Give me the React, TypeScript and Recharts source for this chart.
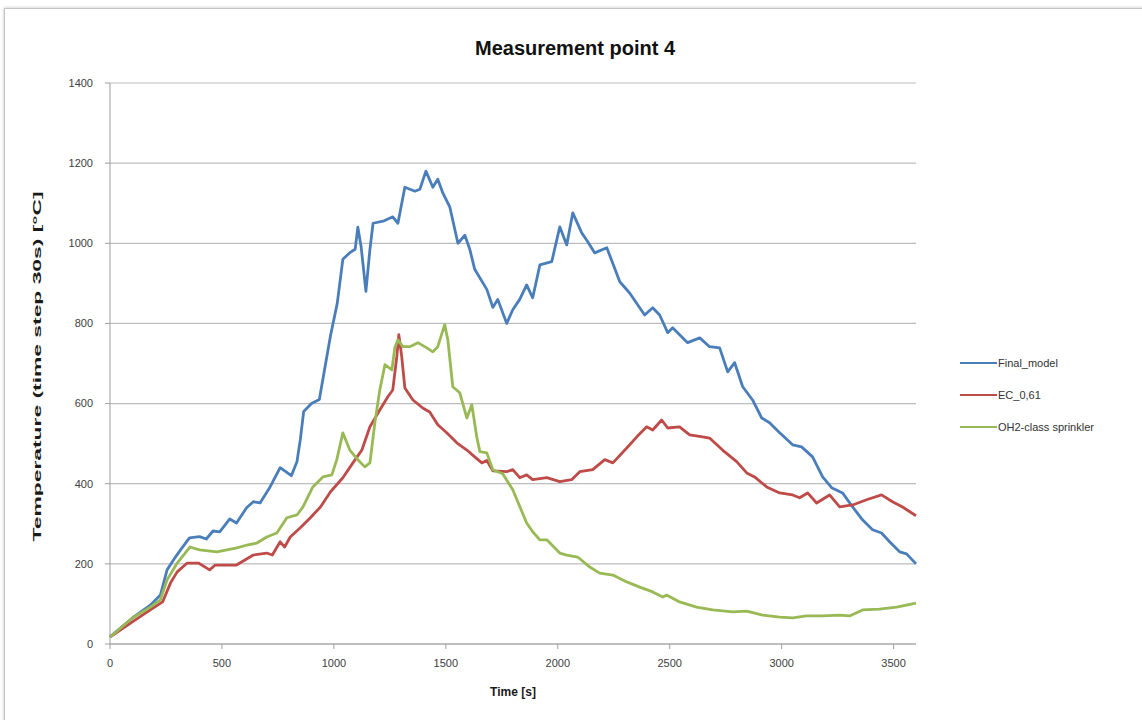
import { LineChart, Line, XAxis, YAxis, CartesianGrid } from "recharts";

// Final_model
const finalTimes = [0, 100, 180, 225, 255, 290, 315, 355, 400, 430, 460, 490, 535, 565, 610, 640, 670, 715, 760, 810, 835, 850, 865, 900, 935, 985, 1015, 1040, 1070, 1095, 1107, 1122, 1143, 1161, 1175, 1220, 1263, 1286, 1317, 1362, 1384, 1411, 1442, 1464, 1487, 1518, 1554, 1585, 1607, 1629, 1683, 1710, 1732, 1772, 1799, 1830, 1861, 1888, 1920, 1973, 2009, 2040, 2067, 2107, 2134, 2165, 2219, 2277, 2321, 2388, 2424, 2455, 2491, 2513, 2580, 2634, 2678, 2723, 2759, 2790, 2826, 2870, 2911, 2946, 2991, 3049, 3089, 3138, 3183, 3223, 3272, 3317, 3361, 3406, 3446, 3482, 3527, 3558, 3600];
const finalTemps = [18, 65, 97, 122, 185, 215, 235, 265, 268, 262, 282, 280, 312, 302, 340, 355, 352, 392, 440, 420, 455, 510, 580, 600, 610, 770, 850, 960, 976, 985, 1040, 990, 880, 985, 1050, 1055, 1066, 1050, 1140, 1130, 1135, 1180, 1140, 1160, 1125, 1090, 1000, 1020, 985, 935, 885, 840, 860, 800, 834, 860, 896, 864, 946, 954, 1041, 996, 1076, 1026, 1004, 976, 989, 904, 876, 821, 839, 821, 777, 789, 752, 764, 742, 739, 679, 702, 642, 609, 564, 552, 527, 497, 492, 467, 417, 390, 377, 342, 310, 285, 277, 255, 230, 225, 200];

// EC_0,61
const ecTimes = [0, 100, 180, 235, 270, 300, 345, 395, 445, 470, 520, 565, 640, 700, 725, 760, 780, 805, 850, 895, 940, 985, 1040, 1085, 1125, 1161, 1205, 1241, 1263, 1281, 1290, 1303, 1317, 1353, 1397, 1428, 1464, 1504, 1549, 1594, 1629, 1661, 1683, 1710, 1772, 1799, 1830, 1861, 1888, 1951, 2009, 2062, 2098, 2156, 2210, 2246, 2308, 2353, 2397, 2424, 2464, 2491, 2544, 2589, 2647, 2678, 2736, 2799, 2844, 2879, 2933, 2991, 3049, 3080, 3116, 3156, 3214, 3259, 3317, 3379, 3446, 3495, 3540, 3600];
const ecTemps = [17, 55, 85, 105, 152, 180, 202, 202, 185, 197, 197, 197, 222, 227, 222, 255, 242, 267, 290, 315, 342, 380, 415, 452, 484, 542, 584, 617, 634, 717, 772, 717, 639, 609, 589, 579, 547, 527, 502, 484, 467, 452, 458, 432, 430, 435, 415, 422, 410, 415, 405, 410, 430, 435, 460, 452, 489, 517, 542, 534, 559, 539, 542, 522, 517, 514, 484, 455, 427, 417, 392, 377, 372, 365, 377, 352, 372, 342, 347, 360, 372, 355, 342, 320];

// OH2-class sprinkler
const ohTimes = [0, 100, 180, 225, 255, 300, 357, 400, 478, 522, 567, 612, 656, 700, 745, 790, 835, 862, 906, 951, 991, 1013, 1040, 1071, 1107, 1138, 1161, 1183, 1205, 1228, 1259, 1272, 1286, 1308, 1339, 1375, 1415, 1442, 1464, 1495, 1509, 1531, 1562, 1594, 1616, 1638, 1652, 1683, 1710, 1754, 1799, 1861, 1888, 1920, 1951, 2009, 2040, 2089, 2143, 2187, 2246, 2308, 2366, 2424, 2469, 2486, 2544, 2620, 2692, 2781, 2844, 2915, 2991, 3049, 3111, 3183, 3259, 3303, 3361, 3437, 3513, 3600];
const ohTemps = [17, 65, 92, 110, 160, 202, 242, 235, 230, 235, 240, 247, 252, 267, 277, 315, 322, 342, 392, 417, 422, 460, 527, 484, 460, 442, 452, 552, 634, 697, 684, 739, 759, 742, 742, 752, 739, 729, 742, 797, 759, 642, 627, 564, 597, 517, 480, 477, 435, 425, 385, 302, 280, 260, 260, 227, 222, 217, 192, 177, 172, 155, 142, 130, 117, 122, 105, 92, 85, 80, 82, 72, 67, 65, 70, 70, 72, 70, 85, 87, 92, 102];

const xTicks = [0, 500, 1000, 1500, 2000, 2500, 3000, 3500];
const yTicks = [0, 200, 400, 600, 800, 1000, 1200, 1400];

const series = [
  { name: "Final_model", color: "#4a7ebb", times: finalTimes, temps: finalTemps },
  { name: "EC_0,61", color: "#be4b48", times: ecTimes, temps: ecTemps },
  { name: "OH2-class sprinkler", color: "#98b954", times: ohTimes, temps: ohTemps },
];

const font = "'Liberation Sans', Arial, sans-serif";

function YTitle(props: any) {
  const { viewBox } = props;
  const cx = 37;
  const cy = viewBox.y + viewBox.height / 2 + 3;
  return (
    <text
      x={cx}
      y={cy}
      transform={`rotate(-90 ${cx} ${cy})`}
      textAnchor="middle"
      dominantBaseline="central"
      textLength={350}
      lengthAdjust="spacingAndGlyphs"
      fontFamily={font}
      fontSize={11.5}
      fontWeight="bold"
      fill="#1a1a1a"
    >
      Temperature (time step  30s) [°C]
    </text>
  );
}

function LegendBox() {
  return (
    <div style={{ position: "absolute", left: 960, top: 347, fontFamily: font, fontSize: 11, color: "#333" }}>
      {series.map((s) => (
        <div key={s.name} style={{ display: "flex", alignItems: "center", height: 32 }}>
          <div style={{ width: 37, height: 2.5, background: s.color }} />
          <span style={{ marginLeft: 1 }}>{s.name}</span>
        </div>
      ))}
    </div>
  );
}

export default function App() {
  return (
    <div style={{ position: "relative", width: 1142, height: 720, background: "#fff", overflow: "hidden" }}>
      <style>{`body{margin:0}`}</style>
      <div
        style={{
          position: "absolute",
          left: 4,
          top: 8,
          width: 1160,
          height: 730,
          border: "1px solid #c4c4c4",
          boxShadow: "0 0 3px rgba(0,0,0,0.25)",
        }}
      />
      <div
        style={{
          position: "absolute",
          left: 0,
          top: 37,
          width: 1142,
          textAlign: "center",
          fontFamily: font,
          fontSize: 20,
          fontWeight: "bold",
          color: "#111",
          paddingLeft: 4,
        }}
      >
        Measurement point 4
      </div>
      <div style={{ position: "absolute", left: 0, top: 0 }}>
        <LineChart width={1142} height={720} margin={{ top: 83, right: 226, bottom: 46, left: 50 }}>
          <CartesianGrid vertical={false} stroke="#bdbdbd" strokeWidth={1.2} />
          <XAxis
            dataKey="t"
            type="number"
            domain={[0, 3600]}
            ticks={xTicks}
            allowDuplicatedCategory={false}
            height={30}
            stroke="#9e9e9e"
            tickSize={5}
            tick={{ fill: "#404040", fontSize: 11, fontFamily: font }}
            tickMargin={10}
            label={{
              value: "Time [s]",
              position: "insideBottom",
              offset: -22,
              fill: "#1a1a1a",
              fontSize: 12,
              fontWeight: "bold",
              fontFamily: font,
            }}
          />
          <YAxis
            type="number"
            domain={[0, 1400]}
            ticks={yTicks}
            width={60}
            stroke="#9e9e9e"
            tickSize={5}
            tick={{ fill: "#404040", fontSize: 11, fontFamily: font }}
            tickMargin={12}
            label={<YTitle />}
          />
          {series.map((s) => (
            <Line
              key={s.name}
              name={s.name}
              data={s.times.map((t, i) => ({ t, v: s.temps[i] }))}
              dataKey="v"
              type="linear"
              stroke={s.color}
              strokeWidth={2.8}
              strokeLinejoin="round"
              dot={false}
              activeDot={false}
              isAnimationActive={false}
            />
          ))}
        </LineChart>
      </div>
      <LegendBox />
    </div>
  );
}
